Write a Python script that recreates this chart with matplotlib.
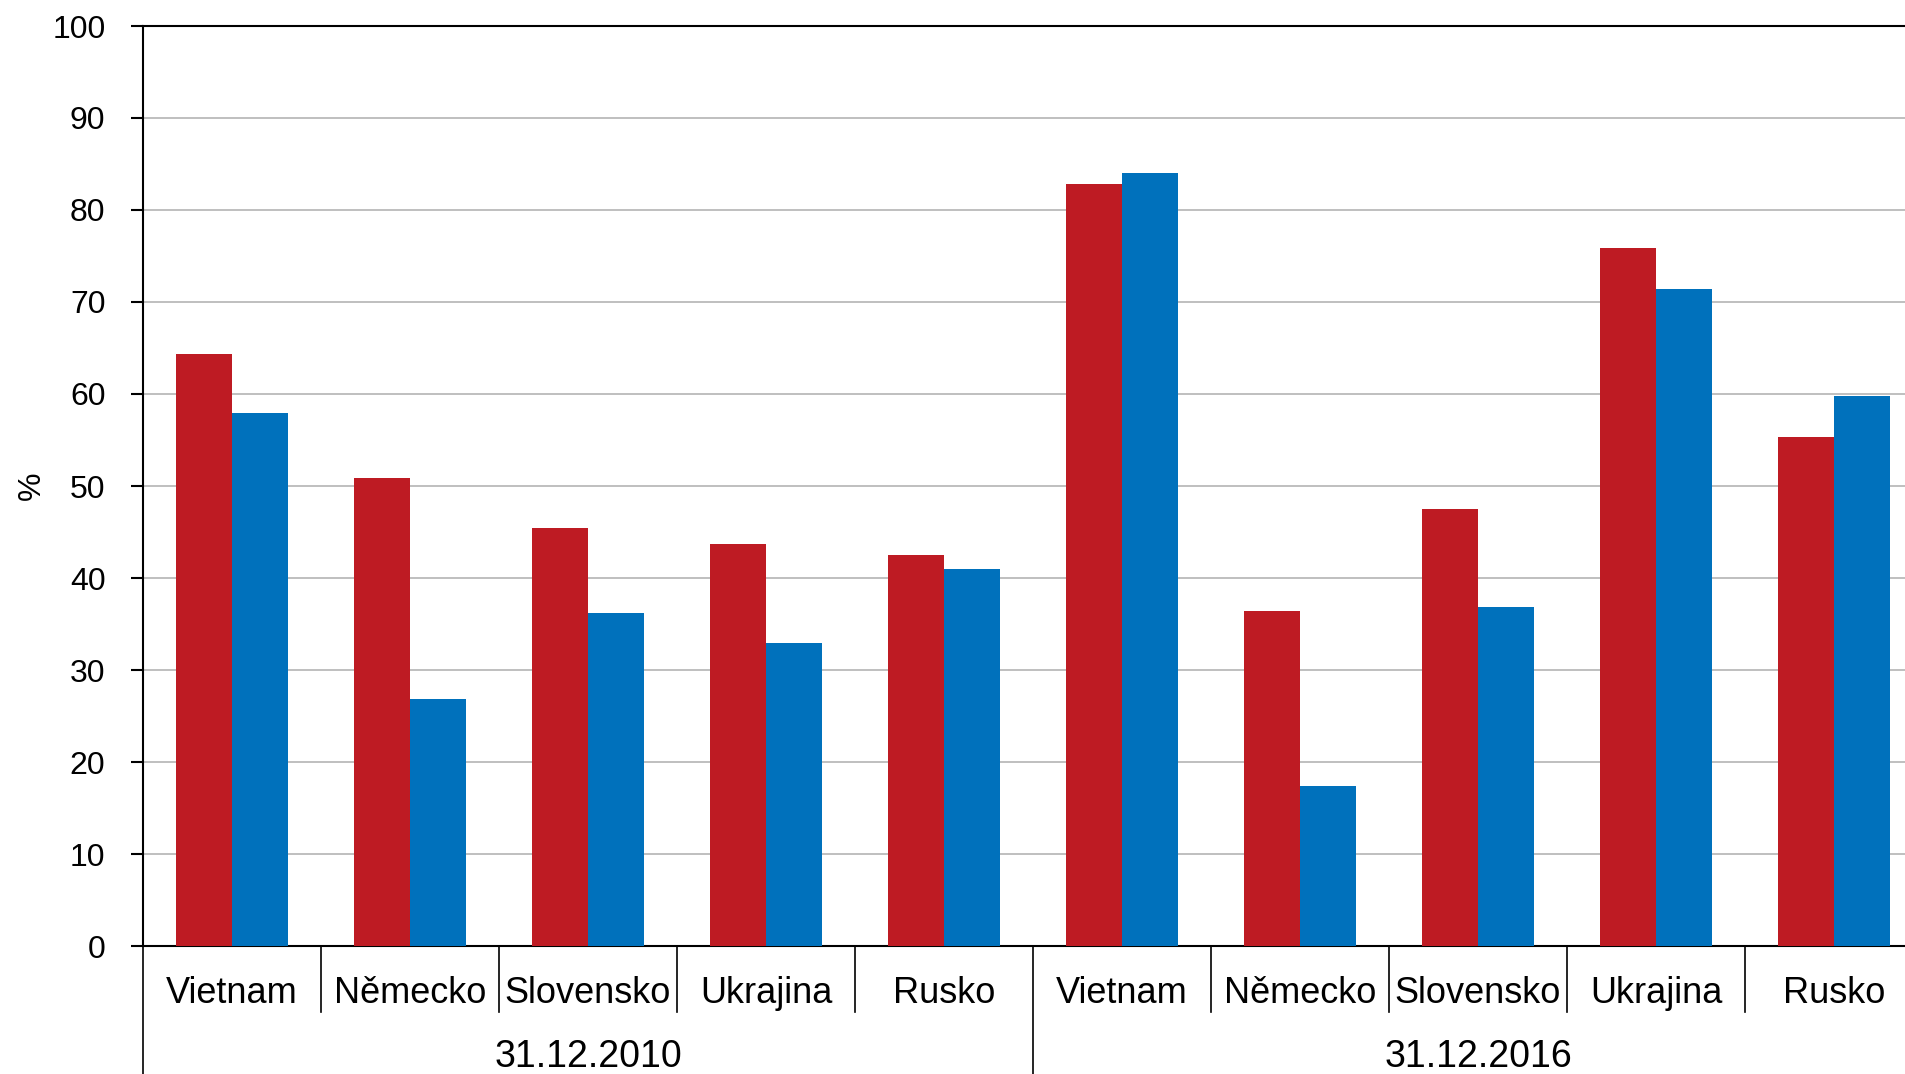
import numpy as np
import matplotlib
matplotlib.use('Agg')
import matplotlib.pyplot as plt

plt.rcParams['font.family'] = ['Liberation Sans', 'DejaVu Sans']

countries = ['Vietnam', 'Německo', 'Slovensko', 'Ukrajina', 'Rusko']
dates = ['31.12.2010', '31.12.2016']
red_vals = [64.3, 50.9, 45.4, 43.7, 42.5, 82.8, 36.4, 47.5, 75.9, 55.3]
blue_vals = [57.9, 26.8, 36.2, 32.9, 41.0, 84.0, 17.4, 36.8, 71.4, 59.8]

labels = countries * len(dates)
x = np.arange(len(labels))
w = 0.317

fig = plt.figure(figsize=(19.06, 10.74), dpi=100)
ax = fig.add_axes([143/1906, 128/1074, 1780/1906, 920/1074])

ax.bar(x - w/2, red_vals, w, color='#BE1B23', zorder=3)
ax.bar(x + w/2, blue_vals, w, color='#0071BC', zorder=3)

ax.set_xlim(-0.5, len(labels) - 0.5)
ax.set_ylim(0, 100)
ax.set_yticks(range(0, 101, 10))
ax.yaxis.grid(True, color='#BFBFBF', linewidth=1.4, zorder=0)
ax.tick_params(axis='y', labelsize=23, length=9, width=1.5, pad=18)
ax.set_xticks([])
ax.set_ylabel('%', fontsize=23, labelpad=4)

for s in ['left', 'bottom', 'top']:
    ax.spines[s].set_linewidth(1.5)
ax.spines['right'].set_visible(False)

tr = ax.get_xaxis_transform()
for i in range(len(labels) + 1):
    b = i - 0.5
    y_end = -0.16 if i % len(countries) == 0 else -0.072
    ax.plot([b, b], [0, y_end], color='black', lw=1.2, transform=tr, clip_on=False)

for i, lab in enumerate(labels):
    ax.text(i, -0.052, lab, transform=tr, ha='center', va='center', fontsize=26)

for j, d in enumerate(dates):
    c = j * len(countries) + (len(countries) - 1) / 2
    ax.text(c, -0.121, d, transform=tr, ha='center', va='center', fontsize=27)

fig.savefig('out.png', dpi=100)
